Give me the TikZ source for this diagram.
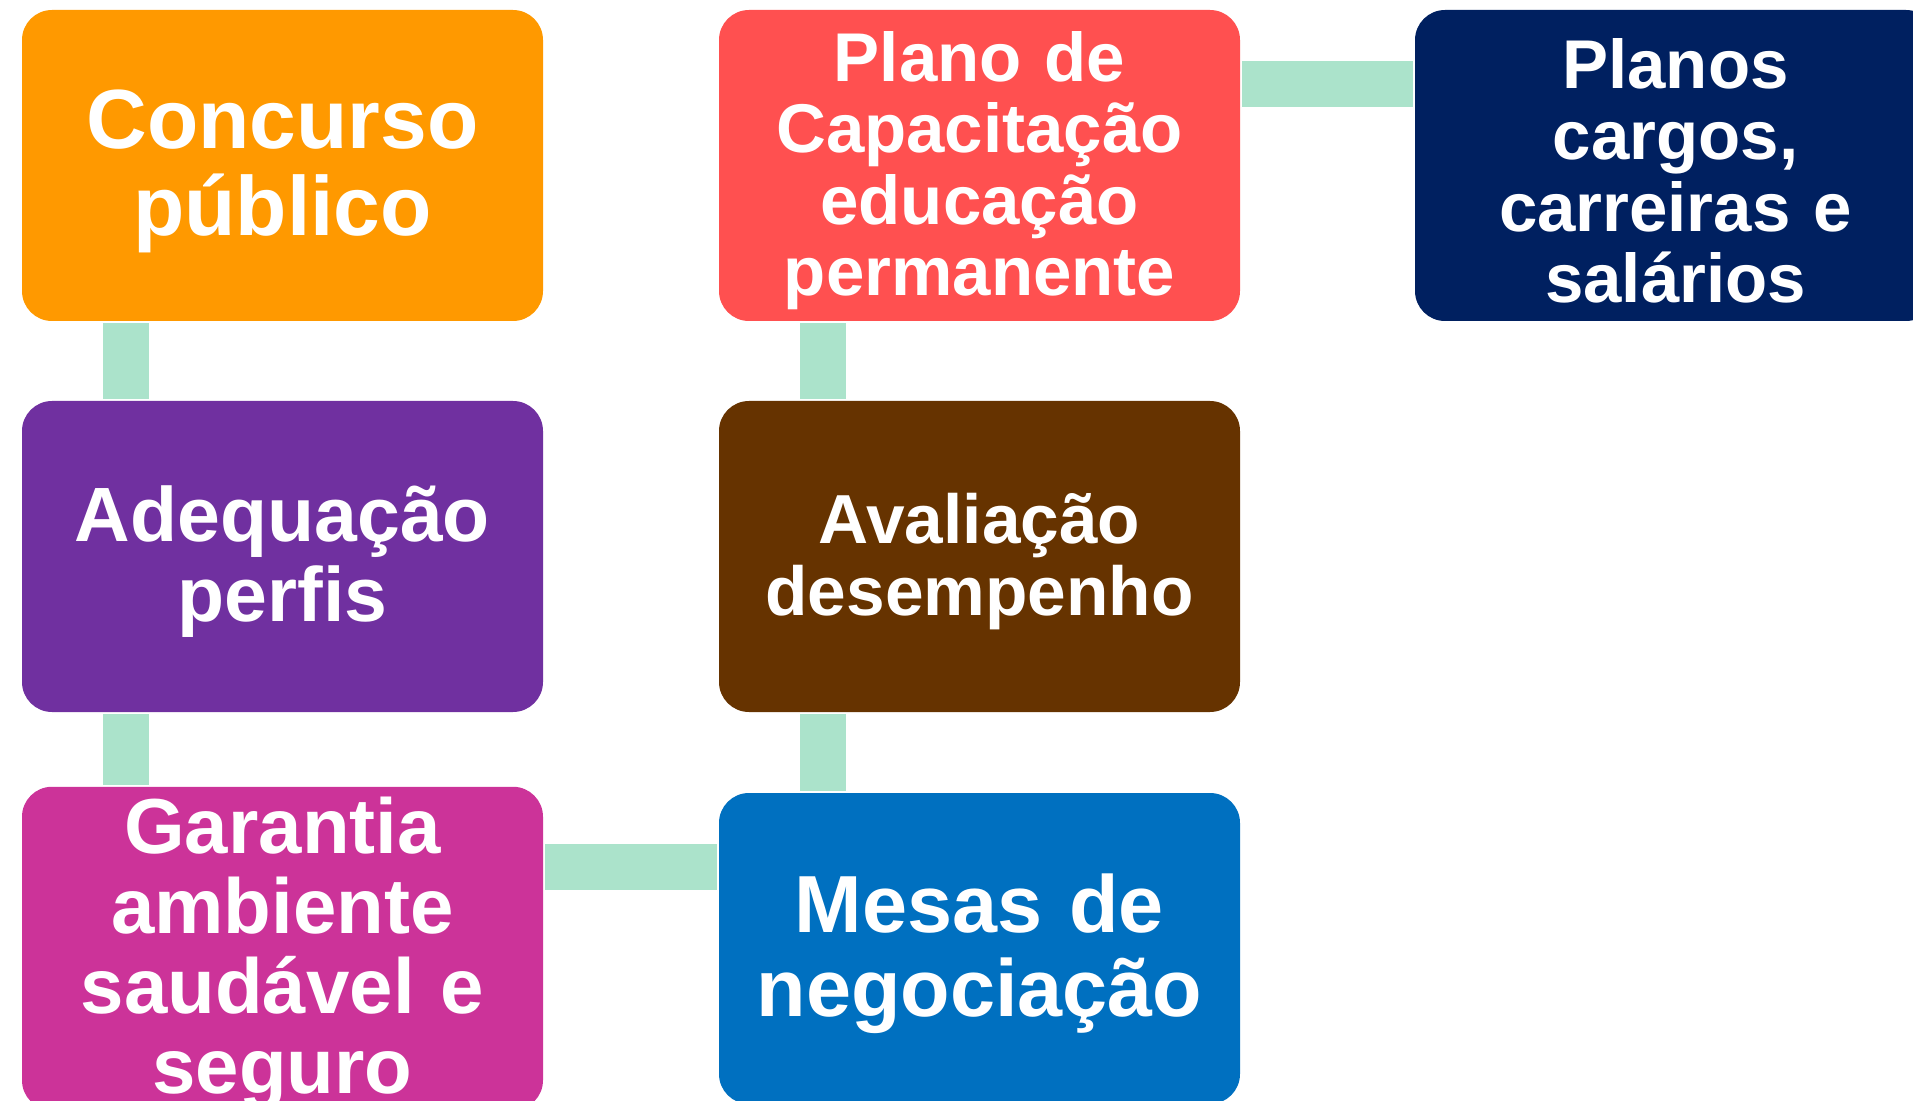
\documentclass[tikz,border=0pt]{standalone}
\usepackage{fontspec}
\setmainfont{Liberation Sans}
\definecolor{concursoorange}{HTML}{FF9900}
\definecolor{perfispurple}{HTML}{7030A0}
\definecolor{garantiapink}{HTML}{CC3399}
\definecolor{capacitred}{HTML}{FF5050}
\definecolor{avaliabrown}{HTML}{663300}
\definecolor{mesasblue}{HTML}{0070C0}
\definecolor{planosnavy}{HTML}{002060}
\definecolor{linkgreen}{HTML}{ABE3CB}
\tikzset{
    block/.style={fill=#1, rounded corners=15pt, minimum width=260.5pt, minimum height=155.5pt,
        inner sep=0pt, outer sep=0pt, text=white, text width=255pt, align=center,
        execute at begin node={\rule{0pt}{\dimexpr0.73em+5pt\relax}}},
    link/.style={draw=linkgreen, line width=23pt, shorten <=1pt, shorten >=1pt}
}

\begin{document}
\begin{tikzpicture}[x=0.5pt, y=-0.5pt]
        \useasboundingbox (0,0) rectangle (1913,1101);
        \clip (0,0) rectangle (1913,1101);

        \node[block=concursoorange, font=\fontsize{42}{43.5}\selectfont\bfseries] (concurso) at (282.5,165.5) {
            Concurso \\ público
        };
        \node[block=perfispurple, font=\fontsize{38.5}{39.8}\selectfont\bfseries] (adequacao) at (282.5,556.5) {
            Adequação \\ perfis
        };
        \node[block=garantiapink, font=\fontsize{39}{40}\selectfont\bfseries] (garantia) at (282.5,948.5) {
            Garantia \\ ambiente \\ saudável e \\ seguro
        };
        \node[block=capacitred, font=\fontsize{34.5}{35.7}\selectfont\bfseries] (capacitacao) at (979.5,165.5) {
            Plano de \\ Capacitação \\ educação \\ permanente
        };
        \node[block=avaliabrown, font=\fontsize{34.7}{35.9}\selectfont\bfseries] (avaliacao) at (979.5,556.5) {
            Avaliação \\ desempenho
        };
        \node[block=mesasblue, font=\fontsize{40.5}{41.8}\selectfont\bfseries] (mesas) at (979.5,948.5) {
            Mesas de \\ negociação
        };
        \node[block=planosnavy, font=\fontsize{34.5}{35.7}\selectfont\bfseries] (planos) at (1675.5,165.5) {
            Planos \\ cargos, \\ carreiras e \\ salários
        };

        % ligações
        \draw[link] ([xshift=-78.5pt]concurso.south) -- ([xshift=-78.5pt]adequacao.north);
        \draw[link] ([xshift=-78.5pt]adequacao.south) -- ([xshift=-78.5pt]garantia.north);
        \draw[link] ([yshift=40.75pt]garantia.east) -- ([yshift=40.75pt]mesas.west);
        \draw[link] ([xshift=-78.5pt]mesas.north) -- ([xshift=-78.5pt]avaliacao.south);
        \draw[link] ([xshift=-78.5pt]avaliacao.north) -- ([xshift=-78.5pt]capacitacao.south);
        \draw[link] ([yshift=40.75pt]capacitacao.east) -- ([yshift=40.75pt]planos.west);
    \end{tikzpicture}
\end{document}
